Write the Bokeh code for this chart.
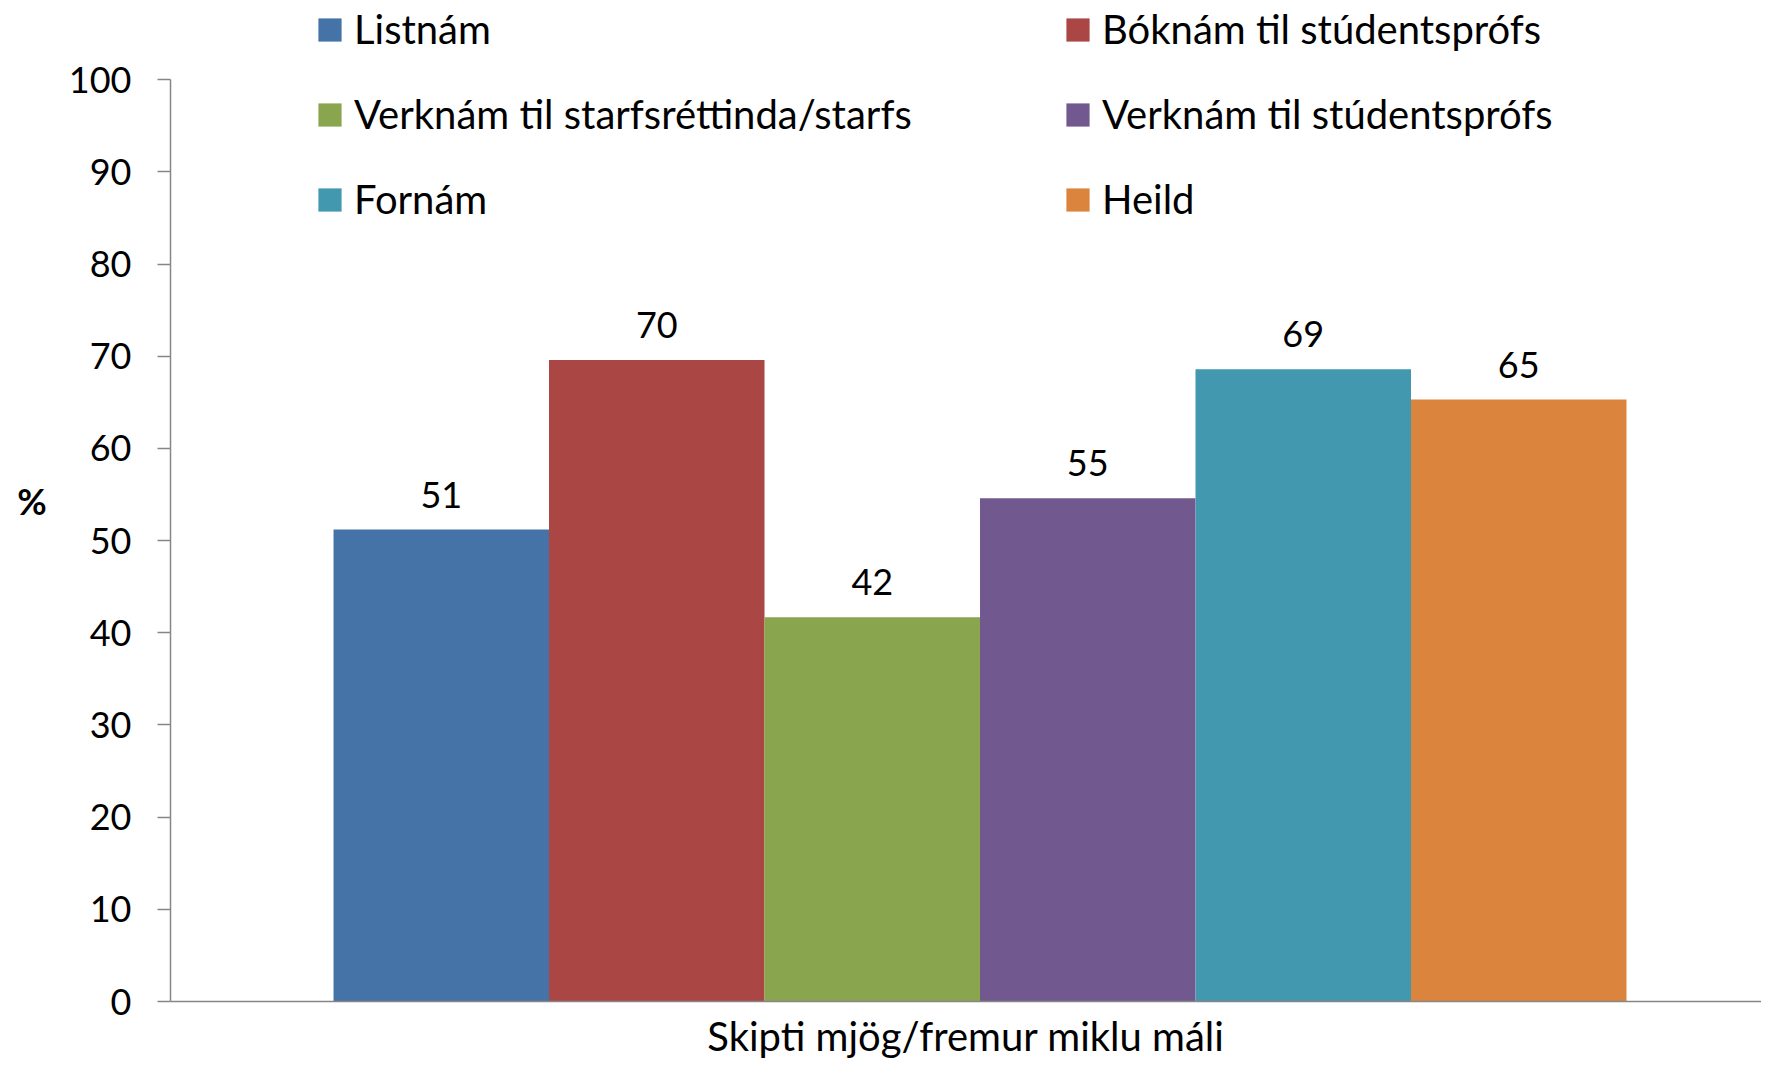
from bokeh.plotting import figure
from bokeh.models import (ColumnDataSource, FactorRange, Range1d, Legend, LegendItem,
                          LabelSet, FixedTicker)
from bokeh.transform import dodge
from bokeh.core.properties import value
from bokeh.embed import file_html
from bokeh.resources import INLINE

category = "Skipti mjög/fremur miklu máli"
series = ["Listnám", "Bóknám til stúdentsprófs", "Verknám til starfsréttinda/starfs",
          "Verknám til stúdentsprófs", "Fornám", "Heild"]
values = [51.2, 69.6, 41.7, 54.6, 68.6, 65.3]
colors = ["#4572A7", "#AA4643", "#89A54E", "#71588F", "#4198AF", "#DB843D"]
y_ticks = [0, 10, 20, 30, 40, 50, 60, 70, 80, 90, 100]

FONT = "Lato"
FS_TEXT = "40px"
FS_NUM = "36px"
AXIS_COLOR = "#868686"

source = ColumnDataSource(dict(
    series=series, value=values, color=colors,
    label=[f"{v:.0f}" for v in values],
))

p = figure(width=1761, height=1062, output_backend="svg", toolbar_location=None,
           x_range=FactorRange(factors=series, range_padding=0.2305, range_padding_units="percent"),
           y_range=Range1d(0, 108.6),
           min_border_left=170, min_border_right=0, min_border_top=0, min_border_bottom=61)
p.outline_line_color = None
p.grid.visible = False
p.background_fill_color = "white"

xpos = dodge("series", 0.065, range=p.x_range)
r = p.vbar(x=xpos, top="value", width=1.0, fill_color="color", line_color=None, source=source)

p.add_layout(LabelSet(x=xpos, y="value", text="label", source=source,
                      text_align="center", text_baseline="middle", y_offset=35,
                      text_font=value(FONT), text_font_size=value(FS_NUM), text_color="black"))

# Y axis
ya = p.yaxis[0]
ya.ticker = FixedTicker(ticks=y_ticks)
ya.bounds = (0, 100)
ya.axis_line_color = AXIS_COLOR
ya.axis_line_width = 1.5
ya.major_tick_line_color = AXIS_COLOR
ya.major_tick_line_width = 1.5
ya.major_tick_in = 0
ya.major_tick_out = 13
ya.minor_tick_line_color = None
ya.major_label_standoff = 26
ya.major_label_text_font = FONT
ya.major_label_text_font_size = FS_NUM
ya.major_label_text_color = "black"
ya.axis_label = "%"
ya.axis_label_text_font = FONT
ya.axis_label_text_font_size = FS_NUM
ya.axis_label_text_font_style = "bold"
ya.axis_label_text_color = "black"
ya.axis_label_text_baseline = "bottom"
ya.axis_label_standoff = 19
try:
    ya.axis_label_orientation = "horizontal"
except Exception:
    pass

# X axis
xa = p.xaxis[0]
xa.axis_line_color = AXIS_COLOR
xa.axis_line_width = 1.5
xa.major_tick_line_color = None
xa.major_tick_out = 0
xa.major_tick_in = 0
xa.minor_tick_line_color = None
xa.minor_tick_out = 0
xa.major_label_text_font_size = "0px"
xa.major_label_standoff = 0
xa.major_label_text_alpha = 0
xa.axis_label = category
xa.axis_label_text_font = FONT
xa.axis_label_text_font_size = FS_TEXT
xa.axis_label_text_font_style = "normal"
xa.axis_label_text_color = "black"
xa.axis_label_standoff = 10

def make_legend(idxs, x):
    items = [LegendItem(label=series[i], renderers=[r], index=i) for i in idxs]
    return Legend(items=items, location=(x, 778), orientation="vertical",
                  label_text_font=FONT, label_text_font_size=FS_TEXT, label_text_color="black",
                  glyph_width=29, glyph_height=29, label_standoff=10, label_height=48,
                  spacing=37, padding=0, margin=0, border_line_alpha=0,
                  background_fill_alpha=0)

p.add_layout(make_legend([0, 2, 4], 145), "center")
p.add_layout(make_legend([1, 3, 5], 893), "center")

open("out.html", "w").write(file_html(p, INLINE))
